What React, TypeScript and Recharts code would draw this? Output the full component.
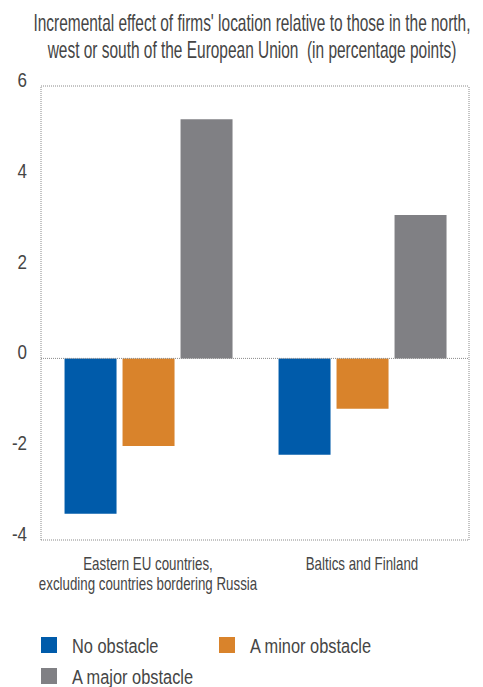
import React from 'react';
import { BarChart, Bar, XAxis, YAxis, ReferenceLine, Legend } from 'recharts';

const categories = [
  'Eastern EU countries,\nexcluding countries bordering Russia',
  'Baltics and Finland',
];
const noObstacle = [-3.42, -2.12];
const minorObstacle = [-1.93, -1.11];
const majorObstacle = [5.27, 3.16];
const seriesNames = ['No obstacle', 'A minor obstacle', 'A major obstacle'];
const yTicks = [-4, -2, 0, 2, 4, 6];
const frameValues = [6, 0, -4];
const dividerValues = [0, 1, 2];
const titleLines = [
  "Incremental effect of firms' location relative to those in the north,",
  'west or south of the European Union  (in percentage points)',
];

const data = categories.map((c, i) => ({
  category: c,
  noObstacle: noObstacle[i],
  minor: minorObstacle[i],
  major: majorObstacle[i],
}));

const FONT = '"Liberation Sans", sans-serif';
const TEXT_COLOR = '#454545';
const COLORS = ['#005BAA', '#D9832B', '#808084'];
const GRID = '#8a8a8a';

const CategoryTick = (props: any) => {
  const { x, y, payload } = props;
  const lines = String(payload.value).split('\n');
  return (
    <g transform={`translate(${x},${y})`}>
      {lines.map((l, i) => (
        <text
          key={i}
          transform={`translate(0, ${30 + i * 20}) scale(0.74,1)`}
          textAnchor="middle"
          fontFamily={FONT}
          fontSize={18}
          fill={TEXT_COLOR}
        >
          {l}
        </text>
      ))}
    </g>
  );
};

const ValueTick = (props: any) => {
  const { x, y, payload } = props;
  return (
    <text
      transform={`translate(${x}, ${y + 1}) scale(0.85,1)`}
      textAnchor="end"
      fontFamily={FONT}
      fontSize={20}
      fill={TEXT_COLOR}
    >
      {payload.value}
    </text>
  );
};

const LegendContent = () => {
  return (
    <svg width={483} height={60}>
      {seriesNames.map((name, i) => {
        const col = i % 2;
        const row = Math.floor(i / 2);
        const x = 41 + col * 178;
        const y = 9 + row * 31;
        return (
          <g key={name}>
            <rect x={x} y={y} width={16} height={16} fill={COLORS[i]} />
            <text
              transform={`translate(${x + 31}, ${y + 16}) scale(0.78,1)`}
              fontFamily={FONT}
              fontSize={21}
              fill={TEXT_COLOR}
            >
              {name}
            </text>
          </g>
        );
      })}
    </svg>
  );
};

export default function App() {
  return (
    <div style={{ position: 'absolute', left: 0, top: 0, width: 483, height: 687, background: '#fff' }}>
      <svg width={483} height={70} style={{ position: 'absolute', left: 0, top: 0 }}>
        {titleLines.map((t, i) => (
          <text
            key={i}
            transform={`translate(252, ${30.5 + i * 27.5}) scale(0.672,1)`}
            textAnchor="middle"
            fontFamily={FONT}
            fontSize={23}
            fill={TEXT_COLOR}
            style={{ whiteSpace: 'pre' }}
          >
            {t}
          </text>
        ))}
      </svg>
      <div style={{ position: 'absolute', left: 0, top: 0 }}>
        <BarChart
          width={483}
          height={687}
          data={data}
          margin={{ top: 86, right: 14, left: 0, bottom: 87 }}
          barCategoryGap="11%"
          barGap={6}
        >
          <XAxis
            dataKey="category"
            axisLine={false}
            tickLine={false}
            tickSize={0}
            tickMargin={0}
            height={60}
            interval={0}
            tick={<CategoryTick />}
          />
          <XAxis xAxisId="div" type="number" domain={[0, 2]} hide />
          <YAxis
            domain={[-4, 6]}
            ticks={yTicks}
            width={41}
            axisLine={false}
            tickLine={false}
            tickSize={0}
            tickMargin={14}
            interval={0}
            tick={<ValueTick />}
          />
          <Bar dataKey="noObstacle" name={seriesNames[0]} fill={COLORS[0]} isAnimationActive={false} />
          <Bar dataKey="minor" name={seriesNames[1]} fill={COLORS[1]} isAnimationActive={false} />
          <Bar dataKey="major" name={seriesNames[2]} fill={COLORS[2]} isAnimationActive={false} />
          {frameValues.map((v) => (
            <ReferenceLine key={`h${v}`} y={v} stroke={GRID} strokeDasharray="1 1" />
          ))}
          {dividerValues.map((v) => (
            <ReferenceLine key={`v${v}`} x={v} xAxisId="div" stroke={GRID} strokeDasharray="1 1" />
          ))}
          <Legend
            layout="horizontal"
            verticalAlign="middle"
            align="center"
            wrapperStyle={{ top: 628, left: 0, width: 483 }}
            content={<LegendContent />}
          />
        </BarChart>
      </div>
    </div>
  );
}
